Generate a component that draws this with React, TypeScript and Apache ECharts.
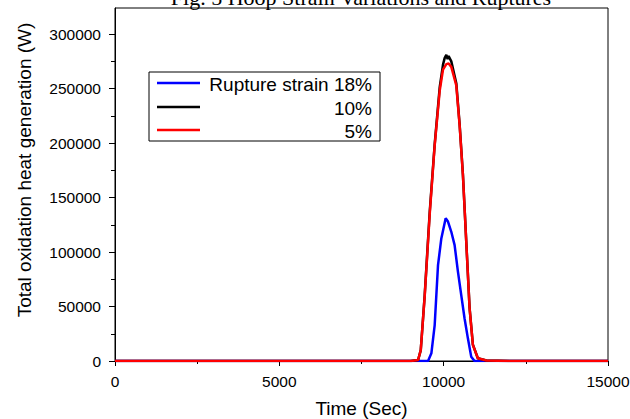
import React, { useEffect, useRef } from "react";
import * as echarts from "echarts";

const chartTitle = "Fig. 5 Hoop Strain Variations and Ruptures";
const xAxisTitle = "Time (Sec)";
const yAxisTitle = "Total oxidation heat generation (W)";
const seriesNames = ["Rupture strain 18%", "10%", "5%"];
const seriesColors = ["#0000ff", "#000000", "#ff0000"];

const xMajorTicks = [0, 5000, 10000, 15000];
const yMajorTicks = [0, 50000, 100000, 150000, 200000, 250000, 300000];
const yMinorTicks = [25000, 75000, 125000, 175000, 225000, 275000];

const tBlue = [0, 5000, 9000, 9525, 9626, 9727, 9828, 9929, 10061, 10131, 10232, 10333, 10434, 10535, 10636, 10737, 10838, 10939, 12000, 15000];
const vBlue = [0, 0, 0, 0, 7000, 33000, 88000, 112500, 131000, 128000, 118600, 106400, 82000, 60500, 39000, 20800, 4000, 0, 0, 0];

const tBlack = [0, 3000, 6000, 9000, 9222, 9303, 9424, 9576, 9727, 9879, 9980, 10030, 10081, 10120, 10150, 10232, 10384, 10485, 10586, 10687, 10788, 10889, 11040, 11300, 12000, 15000];
const vBlack = [0, 0, 0, 0, 900, 10000, 61000, 137000, 199000, 251000, 272000, 278000, 281000, 277000, 280000, 275000, 255000, 217500, 171000, 110000, 49000, 15000, 2500, 500, 0, 0];

const tRed = [0, 3000, 6000, 9000, 9222, 9303, 9424, 9576, 9727, 9879, 9980, 10081, 10150, 10232, 10384, 10485, 10586, 10687, 10788, 10889, 11040, 11300, 12000, 15000];
const vRed = [0, 0, 0, 0, 900, 10000, 60000, 135000, 198000, 248000, 267500, 272500, 273000, 270000, 253000, 216500, 170600, 109500, 48600, 14700, 2500, 500, 0, 0];

const zip = (t: number[], v: number[]) => t.map((x, i) => [x, v[i]]);
const plain = (v: number) => String(v);

export default function App() {
  const ref = useRef<HTMLDivElement>(null);
  useEffect(() => {
    if (!ref.current) return;
    const chart = echarts.init(ref.current, undefined, { renderer: "svg" });
    const sans = "Liberation Sans";
    const legendX = 149, legendY = 72;
    const legendRows = [83, 107, 130];
    const datasets = [zip(tBlue, vBlue), zip(tBlack, vBlack), zip(tRed, vRed)];
    chart.setOption({
      animation: false,
      backgroundColor: "#ffffff",
      grid: { left: 115, right: 22, top: 8, bottom: 58, show: true, borderColor: "#000", borderWidth: 1, backgroundColor: "transparent", containLabel: false, outerBoundsMode: "none" },
      xAxis: [{
        type: "value", min: 0, max: 15000, interval: 5000,
        name: xAxisTitle, nameLocation: "middle", nameGap: 38,
        nameTextStyle: { fontFamily: sans, fontSize: 19, color: "#000" },
        axisLine: { show: true, lineStyle: { color: "#000", width: 1 } },
        axisTick: { show: true, inside: false, length: 5, lineStyle: { color: "#000" } },
        minorTick: { show: true, splitNumber: 2, length: 3, lineStyle: { color: "#000" } },
        axisLabel: { fontFamily: sans, fontSize: 15.5, color: "#000", margin: 12, formatter: plain, customValues: xMajorTicks },
        splitLine: { show: false },
      }],
      yAxis: [{
        type: "value", min: 0, max: 324000,
        axisLine: { show: true, lineStyle: { color: "#000", width: 1 } },
        axisTick: { show: true, inside: false, length: 6, lineStyle: { color: "#000" }, customValues: yMajorTicks },
        axisLabel: { fontFamily: sans, fontSize: 15.5, color: "#000", margin: 14, formatter: plain, customValues: yMajorTicks },
        splitLine: { show: false },
      }, {
        type: "value", min: 0, max: 324000, position: "left",
        axisLine: { show: false },
        axisTick: { show: true, inside: false, length: 4, lineStyle: { color: "#000" }, customValues: yMinorTicks },
        axisLabel: { show: false },
        splitLine: { show: false },
      }],
      series: datasets.map((d, i) => ({
        type: "line", name: seriesNames[i], data: d, showSymbol: false, symbol: "none",
        lineStyle: { color: seriesColors[i], width: 2.5 }, itemStyle: { color: seriesColors[i] },
        z: 2 + i,
      })),
      graphic: [
        { type: "text", x: 361, y: -2.5, style: { text: chartTitle, font: "22px 'Liberation Serif'", fill: "#000", align: "center", verticalAlign: "middle" } },
        { type: "text", x: 24, y: 170, rotation: Math.PI / 2, style: { text: yAxisTitle, font: `19px '${sans}'`, fill: "#000", align: "center", verticalAlign: "middle" } },
        { type: "rect", shape: { x: legendX, y: legendY, width: 231, height: 69 }, style: { fill: "#fff", stroke: "#000", lineWidth: 1 }, z: 10 },
        ...legendRows.flatMap((ry, i) => [
          { type: "line", shape: { x1: 157, y1: ry, x2: 200, y2: ry }, style: { stroke: seriesColors[i], lineWidth: 2.5 }, z: 11 },
          { type: "text", x: 372, y: ry + 1, style: { text: seriesNames[i], font: `19px '${sans}'`, fill: "#000", align: "right", verticalAlign: "middle" }, z: 11 },
        ]),
      ],
    });
    return () => chart.dispose();
  }, []);
  return <div ref={ref} style={{ width: 630, height: 419, position: "absolute", left: 0, top: 0 }} />;
}
